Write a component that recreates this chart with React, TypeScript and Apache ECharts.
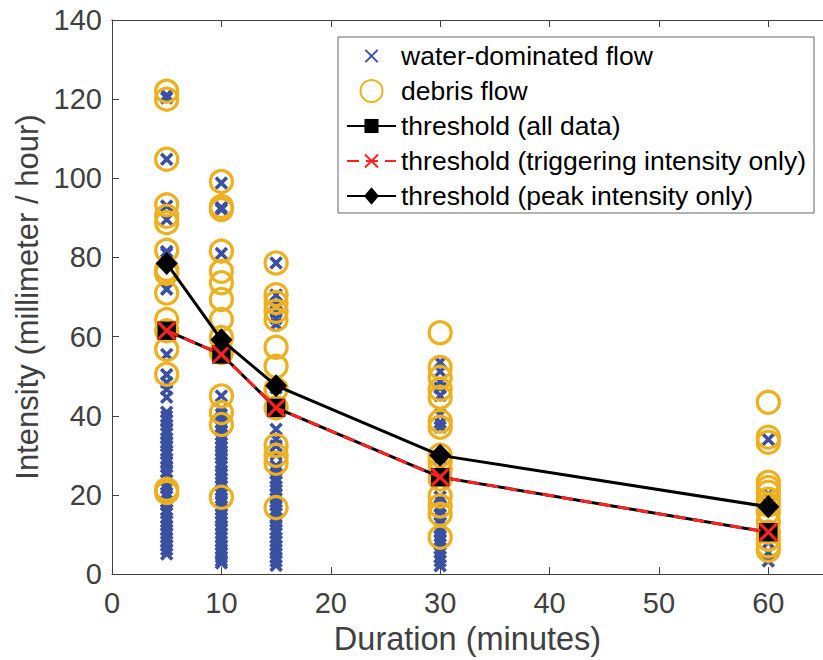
import React, { useEffect, useRef } from "react";
import * as echarts from "echarts";

// ---- data ----
const durations = [5, 10, 15, 30, 60];
const xTicks = [0, 10, 20, 30, 40, 50, 60];
const yTicks = [0, 20, 40, 60, 80, 100, 120, 140];

// water-dominated flow (blue x) per duration
const water5 = [121, 120.3, 104.8, 93, 89.6, 81.5, 81, 72, 55.5, 50.4, 48.4, 46.7, 44.7, 40.9, 39.8, 38.9, 37.6, 36.4, 35.5, 34.2, 33.1, 32.4, 31.2, 30.3, 29.1, 28.4, 27.2, 25.8, 24.9, 23.7, 22.6, 21.8, 20.5, 19.6, 18.3, 17.5, 16.2, 15.4, 14.1, 13.3, 12.2, 11.1, 10.3, 9.2, 8.1, 7.3, 6.2, 5.1];
const water10 = [98.8, 92.6, 92.1, 81, 45, 41.6, 40.3, 39.4, 38.2, 37.1, 36.3, 35.2, 34.1, 33, 32.2, 31.1, 30.2, 29.3, 28.1, 27.2, 26.1, 25.3, 24.2, 23.1, 22.3, 21.2, 20.1, 19.2, 18.4, 17.1, 16.3, 15.2, 14.1, 13.3, 12.2, 11.4, 10.3, 9.1, 8.2, 7.3, 6.2, 5.4, 4.3, 3.4, 2.8];
const water15 = [78.6, 70.5, 68.2, 66.3, 64.6, 63.1, 47, 36.6, 34, 32.4, 30.2, 27.4, 26.3, 25.4, 24.2, 23.3, 22.1, 21.2, 20.3, 19.1, 18.2, 17.4, 16.2, 15.3, 14.1, 13.2, 12.4, 11.2, 10.3, 9.1, 8.3, 7.2, 6.1, 5.3, 4.2, 3.3, 2.2];
const water30 = [53.5, 51.2, 48.6, 47, 45.1, 40.2, 38.3, 37.1, 29.5, 23.2, 19.5, 18.4, 17.1, 16.2, 15, 13.8, 12.9, 11.6, 10.5, 9.6, 8.7, 7.5, 6.4, 5.5, 4.4, 3.3, 2.1];
const water60 = [34, 20.2, 8, 5.5, 3.3];

// debris flow (orange circles) per duration
const debris5 = [122, 120, 104.8, 93.3, 90.4, 88.8, 81.8, 77, 76, 71, 64.3, 61.5, 56.8, 50.5, 21.4, 20.6];
const debris10 = [99.2, 92.9, 92.1, 81.6, 76.5, 73.6, 69.4, 64.3, 59.8, 56, 45, 40.8, 37.8, 19.4];
const debris15 = [78.6, 70.6, 68.6, 66.4, 64.3, 57.3, 52.5, 46.7, 42, 32.5, 30, 28, 16.8];
const debris30 = [61, 52.2, 49.7, 46.7, 44.7, 38.6, 37.1, 30, 28.5, 26.5, 24, 19.7, 17.2, 15.1, 9.3];
const debris60 = [43.4, 34.6, 33.3, 23.2, 21.9, 20.7, 18.9, 17.5, 15.6, 13.1, 10.6, 8.8, 7.1, 6];

// thresholds
const thresholdAll = [61.5, 55.5, 42, 24.5, 10.6];
const thresholdTrigger = [61.5, 55.5, 42, 24.5, 10.6];
const thresholdPeak = [78.5, 59.2, 47.6, 30, 17];

const seriesNames = [
  "water-dominated flow",
  "debris flow",
  "threshold (all data)",
  "threshold (triggering intensity only)",
  "threshold (peak intensity only)",
];

const FONT = "Liberation Sans, Arial, Helvetica, sans-serif";
const BLUE = "#3a51a2";
const ORANGE = "#edb120";
const RED = "#ff2020";
const AXIS = "#404040";
const X_PATH = "path://M0,0L10,10M10,0L0,10";
// padded variants (the extra move-to points only enlarge the bounding box)
const X_LEGEND = "path://M-4,-4M14,14M0,0L10,10M10,0L0,10";
const X_RED = "path://M-1.75,-1.75M11.75,11.75M0,0L10,10M10,0L0,10";
const SQUARE = "path://M-1.25,-1.25M11.25,11.25M0,0L10,0L10,10L0,10Z";
const DIAMOND = "path://M-0.9,7M10.9,7M5,0L10,7L5,14L0,7Z";

function pairs(groups: number[][]): number[][] {
  const out: number[][] = [];
  groups.forEach((vals, i) => vals.forEach((v) => out.push([durations[i], v])));
  return out;
}

export default function App() {
  const ref = useRef<HTMLDivElement>(null);
  useEffect(() => {
    document.body.style.margin = "0";
    document.body.style.overflow = "hidden";
    if (!ref.current) return;
    const chart = echarts.init(ref.current, null, { renderer: "svg" });
    const xMax = 65;
    const axisCommon = {
      axisLine: { show: true, lineStyle: { color: AXIS, width: 1 } },
      axisTick: { show: true, inside: true, length: 7, lineStyle: { color: AXIS } },
      splitLine: { show: false },
    };
    chart.setOption({
      animation: false,
      backgroundColor: "#ffffff",
      grid: { left: 112, top: 20, width: 717, height: 555, containLabel: false },
      xAxis: [
        {
          type: "value",
          min: 0,
          max: xMax,
          interval: 10,
          ...axisCommon,
          axisLabel: {
            show: true,
            margin: 14,
            fontSize: 29,
            color: AXIS,
            fontFamily: FONT,
            showMaxLabel: false,
            formatter: (v: number) => (xTicks.includes(v) ? String(v) : ""),
          },
          name: "Duration (minutes)",
          nameLocation: "middle",
          nameGap: 46,
          nameTextStyle: { fontSize: 32.5, color: AXIS, fontFamily: FONT },
        },
        {
          type: "value",
          position: "top",
          min: 0,
          max: xMax,
          interval: 10,
          ...axisCommon,
          axisLabel: { show: false },
        },
      ],
      yAxis: [
        {
          type: "value",
          min: 0,
          max: 140,
          interval: 20,
          ...axisCommon,
          axisLabel: {
            show: true,
            margin: 10,
            fontSize: 29,
            color: AXIS,
            fontFamily: FONT,
            formatter: (v: number) => (yTicks.includes(v) ? String(v) : ""),
          },
          name: "Intensity (millimeter / hour)",
          nameLocation: "middle",
          nameGap: 62,
          nameRotate: 90,
          nameTextStyle: { fontSize: 31, color: AXIS, fontFamily: FONT },
        },
      ],
      legend: {
        orient: "vertical",
        left: 338,
        top: 37,
        padding: [5, 8, 3, 8],
        itemWidth: 49,
        itemHeight: 22,
        itemGap: 7,
        backgroundColor: "#ffffff",
        borderColor: "#666666",
        borderWidth: 1,
        textStyle: { fontSize: 26.5, color: "#000", fontFamily: FONT, lineHeight: 28 },
        data: [
          { name: seriesNames[0], icon: X_LEGEND },
          { name: seriesNames[1] },
          { name: seriesNames[2] },
          { name: seriesNames[3] },
          { name: seriesNames[4] },
        ],
      },
      series: [
        {
          name: seriesNames[0],
          type: "scatter",
          symbol: X_PATH,
          symbolSize: 11,
          itemStyle: { color: "none", borderColor: BLUE, borderWidth: 3.6, opacity: 1 },
          data: pairs([water5, water10, water15, water30, water60]),
          z: 2,
        },
        {
          name: seriesNames[1],
          type: "scatter",
          symbol: "circle",
          symbolSize: 22,
          itemStyle: { color: "none", borderColor: ORANGE, borderWidth: 3.3, opacity: 1 },
          data: pairs([debris5, debris10, debris15, debris30, debris60]),
          z: 3,
        },
        {
          name: seriesNames[2],
          type: "line",
          symbol: SQUARE,
          symbolSize: 23,
          itemStyle: { color: "#000" },
          lineStyle: { color: "#000", width: 3 },
          data: durations.map((d, i) => [d, thresholdAll[i]]),
          z: 4,
        },
        {
          name: seriesNames[3],
          type: "line",
          symbol: X_RED,
          symbolSize: 23,
          itemStyle: { color: "none", borderColor: RED, borderWidth: 3 },
          lineStyle: { color: RED, width: 3, type: [12, 7] },
          data: durations.map((d, i) => [d, thresholdTrigger[i]]),
          z: 5,
        },
        {
          name: seriesNames[4],
          type: "line",
          symbol: DIAMOND,
          symbolSize: [26, 23],
          itemStyle: { color: "#000" },
          lineStyle: { color: "#000", width: 3 },
          data: durations.map((d, i) => [d, thresholdPeak[i]]),
          z: 6,
        },
      ],
    });
    return () => chart.dispose();
  }, []);
  return <div ref={ref} style={{ width: 823, height: 660 }} />;
}
